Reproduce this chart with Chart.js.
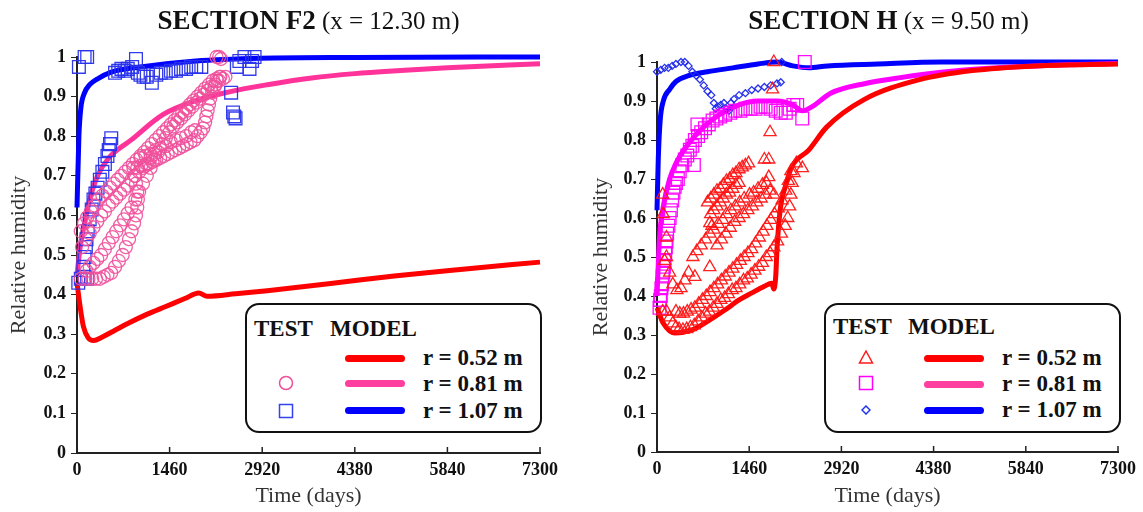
<!DOCTYPE html>
<html>
<head>
<meta charset="utf-8">
<script src="https://cdn.jsdelivr.net/npm/chart.js@4.4.1/dist/chart.umd.min.js"></script>
<style>
  body { margin: 0; background: #fff; width: 1143px; height: 512px; position: relative; overflow: hidden; font-family: "Liberation Serif", "Times New Roman", serif; }
  .panel { position: absolute; top: 0; height: 512px; }
  .title { position: absolute; top: 5px; text-align: center; font-size: 25px; line-height: 30px; color: #111; white-space: nowrap; }
  .title b { font-size: 27px; }
  .legend { position: absolute; top: 303px; height: 126px; border: 2px solid #111; border-radius: 14px; background: #fff; font-weight: bold; font-size: 23px; color: #111; }
  .legend span, .legend svg, .legend i { position: absolute; }
  .legend span { line-height: 24px; white-space: nowrap; }
  .legend i { height: 7px; width: 60px; border-radius: 4px; }
</style>
</head>
<body>

<div class="panel" style="left:0;width:571px"><canvas id="chartF2"></canvas></div>
<div class="panel" style="left:582px;width:561px"><canvas id="chartH"></canvas></div>

<div class="title" style="left:77px;width:463px"><b>SECTION F2</b> (x = 12.30 m)</div>
<div class="title" style="left:657px;width:463px"><b>SECTION H</b> (x = 9.50 m)</div>

<div class="legend" style="left:245px;width:293px">
  <span style="left:7px;top:12px">TEST</span>
  <span style="left:83px;top:12px">MODEL</span>
  <i style="left:98px;top:50px;background:#ff0000"></i>
  <span style="left:176px;top:41px">r = 0.52 m</span>
  <svg style="left:31px;top:70px" width="16" height="16"><circle cx="8" cy="8" r="6.5" fill="none" stroke="#f0509a" stroke-width="1.5"/></svg>
  <i style="left:98px;top:75px;background:#ff3f9f"></i>
  <span style="left:176px;top:67px">r = 0.81 m</span>
  <svg style="left:31px;top:98px" width="16" height="16"><rect x="1.5" y="1.5" width="13" height="13" fill="none" stroke="#3344ee" stroke-width="1.5"/></svg>
  <i style="left:98px;top:102px;background:#0000ff"></i>
  <span style="left:176px;top:94px">r = 1.07 m</span>
</div>

<div class="legend" style="left:824px;width:293px">
  <span style="left:7px;top:10px">TEST</span>
  <span style="left:82px;top:10px">MODEL</span>
  <svg style="left:32px;top:44px" width="16" height="16"><polygon points="8,2 14.5,14 1.5,14" fill="none" stroke="#ff1a1a" stroke-width="1.5"/></svg>
  <i style="left:98px;top:50px;background:#ff0000"></i>
  <span style="left:176px;top:41px">r = 0.52 m</span>
  <svg style="left:32px;top:70px" width="16" height="16"><rect x="1.5" y="1.5" width="13" height="13" fill="none" stroke="#ff00ff" stroke-width="1.5"/></svg>
  <i style="left:98px;top:76px;background:#ff3f9f"></i>
  <span style="left:176px;top:67px">r = 0.81 m</span>
  <svg style="left:35px;top:100px" width="10" height="10"><polygon points="5,1 9,5 5,9 1,5" fill="none" stroke="#2233ee" stroke-width="1.5"/></svg>
  <i style="left:98px;top:102px;background:#0000ff"></i>
  <span style="left:176px;top:93px">r = 1.07 m</span>
</div>

<script>
// axis ticks
const timeTicks = [0, 1460, 2920, 4380, 5840, 7300];
const rhTicks = [0, 0.1, 0.2, 0.3, 0.4, 0.5, 0.6, 0.7, 0.8, 0.9, 1];

// SECTION F2 - model curves [time (days), relative humidity]
const f2Model052 = [[0,0.43],[40,0.38],[100,0.32],[180,0.29],[260,0.284],[400,0.293],[600,0.31],[800,0.327],[1100,0.35],[1400,0.37],[1700,0.39],[1920,0.404],[2050,0.396],[2500,0.402],[3000,0.41],[4000,0.428],[5000,0.447],[6000,0.463],[7300,0.482]];
const f2Model081 = [[0,0.45],[50,0.52],[120,0.58],[200,0.64],[325,0.70],[500,0.745],[850,0.79],[1360,0.855],[1875,0.89],[2400,0.912],[3000,0.93],[3700,0.947],[4380,0.958],[5100,0.966],[5840,0.973],[7300,0.983]];
const f2Model107 = [[0,0.62],[30,0.8],[60,0.87],[120,0.91],[200,0.93],[325,0.945],[540,0.962],[1000,0.975],[1875,0.99],[2900,0.997],[4380,0.999],[7300,1.0]];

// SECTION F2 - test data, r = 0.81 m (three loops of readings)
const f2Test081a = [[60,0.56],[110,0.58],[160,0.595],[220,0.61],[280,0.625],[340,0.64],[400,0.65],[460,0.66],[520,0.67],[580,0.68],[640,0.69],[700,0.70],[760,0.71],[820,0.72],[880,0.73],[940,0.74],[1000,0.75],[1060,0.76],[1120,0.77],[1180,0.78],[1240,0.79],[1300,0.80],[1360,0.81],[1420,0.82],[1480,0.83],[1540,0.84],[1600,0.85],[1660,0.86],[1720,0.87],[1780,0.88],[1840,0.89],[1900,0.90],[1960,0.91],[2020,0.92],[2080,0.93],[2140,0.94],[2200,0.945],[2260,0.95],
  [80,0.52],[140,0.54],[200,0.555],[260,0.57],[320,0.585],[380,0.60],[440,0.61],[500,0.625],[560,0.635],[620,0.645],[680,0.655],[740,0.665],[800,0.675],[860,0.69],[920,0.70],[980,0.71],[1040,0.72],[1100,0.73],[1160,0.745],[1220,0.755]];
const f2Test081b = [[150,0.46],[200,0.47],[260,0.48],[320,0.49],[380,0.50],[440,0.515],[500,0.53],[560,0.545],[620,0.56],[680,0.575],[740,0.59],[800,0.605],[860,0.62],[920,0.64],[980,0.66],[1040,0.68],[1100,0.70],[1160,0.72],[1220,0.74],[1280,0.76],[1340,0.78],[1400,0.795],[1460,0.81],[1520,0.825],[1580,0.835],[1640,0.845],[1700,0.855],[1760,0.865],[1820,0.875],[1880,0.885],[1940,0.895],[2000,0.905],[2060,0.915],[2120,0.925],[2180,0.93],[2240,0.94],[2300,0.945],[2340,0.95]];
const f2Test081c = [[60,0.44],[120,0.44],[180,0.44],[240,0.44],[300,0.44],[360,0.44],[420,0.445],[480,0.45],[540,0.455],[600,0.47],[660,0.485],[720,0.50],[770,0.52],[820,0.54],[860,0.56],[900,0.58],[930,0.60],[950,0.62],[960,0.64],[950,0.66],[930,0.68],[910,0.70],[890,0.72],[950,0.72],[1010,0.725],[1070,0.725],[1130,0.73],[1190,0.735],[1250,0.74],[1310,0.745],[1370,0.75],[1430,0.755],[1490,0.76],[1550,0.765],[1610,0.77],[1670,0.775],[1730,0.78],[1790,0.785],[1850,0.79],[1900,0.80],[1950,0.81],[1990,0.82],[2020,0.835],[2040,0.85],[2060,0.865],[2080,0.88],[2100,0.895],[2130,0.91],[2170,0.925],[2210,0.94],[2250,0.95],
  [1000,0.745],[1080,0.75],[1160,0.755],[1240,0.765],[1320,0.77],[1400,0.775],[1480,0.785],[1560,0.79],[1640,0.795],[1720,0.80],[1800,0.81],[1860,0.815],
  [2200,1.0],[2240,1.0],[2270,0.995]];
// SECTION F2 - test data, r = 1.07 m
const f2Test107 = [[20,0.43],[60,0.44],[120,0.445],[160,0.44],[100,0.47],[120,0.495],[140,0.52],[150,0.54],[170,0.56],[200,0.59],[232,0.615],[260,0.64],[290,0.655],[325,0.67],[360,0.69],[400,0.71],[440,0.73],[480,0.75],[500,0.765],[520,0.78],[540,0.795],
  [30,0.975],[120,1.0],[160,1.0],
  [600,0.96],[650,0.965],[700,0.97],[750,0.965],[800,0.97],[870,0.975],[930,0.995],[960,0.96],[1000,0.955],[1050,0.95],[1100,0.95],[1180,0.935],[1250,0.955],[1320,0.96],[1400,0.96],[1480,0.965],[1560,0.965],[1640,0.97],[1720,0.97],[1800,0.975],[1880,0.975],[1960,0.975],
  [2430,0.91],[2460,0.86],[2480,0.85],[2500,0.845],[2520,0.975],[2560,0.99],[2640,1.0],[2720,0.97],[2760,0.99],[2800,1.0]];

// SECTION H - model curves
const hModel052 = [[0,0.37],[100,0.33],[284,0.305],[553,0.313],[800,0.335],[1075,0.364],[1300,0.39],[1501,0.408],[1700,0.425],[1817,0.433],[1850,0.418],[1880,0.45],[1900,0.52],[1950,0.62],[2050,0.69],[2133,0.731],[2402,0.774],[2686,0.833],[3271,0.903],[4140,0.954],[4993,0.978],[6000,0.99],[7300,0.995]];
const hModel081 = [[0,0.40],[40,0.55],[100,0.63],[200,0.70],[300,0.74],[450,0.78],[600,0.81],[900,0.855],[1300,0.89],[1600,0.90],[1900,0.90],[2150,0.89],[2300,0.875],[2450,0.885],[2750,0.92],[3300,0.945],[3850,0.96],[4700,0.977],[5600,0.987],[6500,0.993],[7300,0.996]];
const hModel107 = [[0,0.62],[20,0.75],[50,0.85],[100,0.9],[200,0.93],[300,0.95],[500,0.965],[800,0.975],[1200,0.985],[1600,0.995],[1900,1.0],[2150,0.99],[2400,0.985],[2700,0.99],[3500,0.995],[4500,1.0],[7300,1.0]];

// SECTION H - test data, r = 0.52 m (three bands of readings plus early ones)
const hTest052a = [[800,0.64],[850,0.65],[900,0.66],[950,0.67],[1000,0.675],[1050,0.685],[1100,0.695],[1150,0.70],[1200,0.71],[1250,0.715],[1300,0.725],[1350,0.73],[1400,0.735],[1450,0.74],
  [850,0.61],[900,0.62],[950,0.63],[1000,0.64],[1050,0.65],[1100,0.66],[1150,0.665],[1200,0.675],[1250,0.685],[1300,0.69],
  [870,0.58],[1700,0.75]];
const hTest052b = [[90,0.66],[100,0.61],[150,0.55],[120,0.49],[90,0.36],
  [150,0.50],[200,0.46],[250,0.43],[315,0.415],[380,0.42],[440,0.44],[500,0.46],[568,0.50],[630,0.515],[700,0.53],[770,0.545],[836,0.56],[900,0.57],[970,0.585],[1040,0.595],[1100,0.61],[1170,0.62],[1240,0.63],[1310,0.64],[1380,0.65],[1466,0.66],[1530,0.665],[1600,0.675],[1670,0.685],[1734,0.69],[1770,0.705],[1770,0.75],[1790,0.82],[1830,0.93],[1850,1.0],
  [950,0.53],[1020,0.545],[1090,0.56],[1160,0.575],[1230,0.59],[1300,0.60],[1370,0.61],[1440,0.62],[1510,0.63],[1580,0.64],[1650,0.65],[1720,0.66],[1790,0.67],[1850,0.66],[600,0.449],[836,0.474],[836,0.587]];
const hTest052c = [[150,0.36],[200,0.345],[250,0.33],[300,0.32],[350,0.315],[410,0.313],[470,0.315],[530,0.32],[590,0.325],[650,0.335],[710,0.345],[770,0.355],[830,0.36],[890,0.37],[950,0.38],[1010,0.39],[1070,0.395],[1130,0.405],[1190,0.415],[1250,0.42],[1310,0.43],[1370,0.44],[1430,0.445],[1490,0.455],[1550,0.465],[1610,0.475],[1670,0.485],[1730,0.50],[1790,0.51],[1850,0.525],[1910,0.54],[1970,0.56],[2030,0.58],[2070,0.60],[2100,0.63],[2120,0.66],[2140,0.69],[2170,0.715],[2207,0.74],
  [300,0.36],[360,0.355],[420,0.355],[480,0.36],[540,0.365],[600,0.37],[660,0.38],[720,0.39],[780,0.40],[840,0.41],[900,0.42],[960,0.43],[1020,0.44],[1080,0.45],[1140,0.46],[1200,0.47],[1260,0.48],[1320,0.49],[1380,0.50],[1440,0.51],[1500,0.52],[1560,0.535],[1620,0.55],[1680,0.565],[1740,0.58],[1800,0.595],[1860,0.61],[1920,0.625],[1980,0.645],[2040,0.67],[2080,0.695],[2120,0.72],[2302,0.728]];
// SECTION H - test data, r = 0.81 m and r = 1.07 m
const hTest081 = [[40,0.37],[50,0.39],[60,0.40],[70,0.42],[80,0.43],[90,0.45],[100,0.46],[110,0.475],[120,0.49],[130,0.51],[140,0.525],[150,0.54],[160,0.56],[180,0.58],[200,0.60],[220,0.62],[240,0.645],[260,0.665],[280,0.68],[300,0.69],[330,0.70],[360,0.72],[400,0.735],[440,0.75],[480,0.76],[520,0.775],[560,0.785],[600,0.80],[650,0.81],[700,0.82],[760,0.83],[820,0.84],[880,0.85],[940,0.855],[1000,0.86],[1080,0.865],[1160,0.87],[1240,0.875],[1320,0.875],[1400,0.88],[1480,0.88],[1560,0.88],[1640,0.885],[1720,0.885],[1800,0.88],[1880,0.875],[1960,0.87],[2040,0.87],[2100,0.88],[2160,0.89],[2220,0.89],[2300,0.855],[2340,1.0],[584,0.736],[640,0.84]];
const hTest107 = [[0,0.975],[60,0.98],[120,0.985],[180,0.985],[240,0.99],[300,0.995],[380,1.0],[440,1.0],[500,0.99],[560,0.975],[620,0.965],[680,0.955],[740,0.94],[800,0.925],[860,0.915],[900,0.895],[930,0.88],[970,0.885],[1010,0.89],[1060,0.895],[1100,0.88],[1140,0.875],[1170,0.895],[1220,0.905],[1300,0.915],[1400,0.92],[1500,0.928],[1600,0.932],[1700,0.936],[1800,0.94],[1900,0.945],[1960,0.948],[1975,1.0]];

const toXY = (arr) => arr.map(([x, y]) => ({ x, y }));

function model(data, color) {
  return {
    data: toXY(data),
    showLine: true,
    borderColor: color,
    borderWidth: 5,
    pointRadius: 0,
    cubicInterpolationMode: "monotone",
    order: 2,
    clip: false,
  };
}

function test(data, style, color, radius) {
  return {
    data: toXY(data),
    showLine: false,
    pointStyle: style,
    pointRadius: radius,
    pointBorderColor: color,
    pointBackgroundColor: "rgba(255,255,255,0)",
    pointBorderWidth: 1.3,
    order: 1,
    clip: false,
  };
}

// x-axis tick marks point up into the plot, as in the original figure
const innerXTicks = {
  id: "innerXTicks",
  afterDraw(chart) {
    const { ctx, chartArea } = chart;
    const x = chart.scales.x;
    ctx.save();
    ctx.strokeStyle = "#222";
    ctx.lineWidth = 1.5;
    timeTicks.forEach((v) => {
      const px = x.getPixelForValue(v);
      ctx.beginPath();
      ctx.moveTo(px, chartArea.bottom);
      ctx.lineTo(px, chartArea.bottom - 6);
      ctx.stroke();
    });
    ctx.restore();
  },
};

const tickFont = { family: "Liberation Serif", size: 18, weight: "bold" };
const titleFont = { family: "Liberation Serif", size: 22 };

function options(yWidth, topPad, bottom, rightPad, titlePad) {
  return {
    responsive: true,
    maintainAspectRatio: false,
    animation: false,
    layout: { padding: { top: topPad, right: rightPad, left: 0, bottom: 0 } },
    plugins: { legend: { display: false }, tooltip: { enabled: false } },
    scales: {
      x: {
        type: "linear",
        min: 0,
        max: 7300,
        afterBuildTicks: (s) => { s.ticks = timeTicks.map((v) => ({ value: v })); },
        afterFit: (s) => { s.height = 512 - bottom; },
        ticks: { color: "#111", font: tickFont, padding: 7, maxRotation: 0, callback: (v) => String(v) },
        grid: { display: false, drawTicks: false },
        border: { color: "#222", width: 2 },
        title: { display: true, text: "Time (days)", color: "#333", font: titleFont, padding: { top: 0, bottom: 3 } },
      },
      y: {
        min: 0,
        max: 1,
        afterBuildTicks: (s) => { s.ticks = rhTicks.map((v) => ({ value: v })); },
        afterFit: (s) => { s.width = yWidth; },
        ticks: { color: "#111", font: tickFont, padding: 5, callback: (v) => (v === 0 || v === 1 ? String(v) : v.toFixed(1)) },
        grid: { drawOnChartArea: false, tickLength: 6, color: "#222" },
        border: { color: "#222", width: 2 },
        title: { display: true, text: "Relative humidity", color: "#333", font: titleFont, padding: { top: titlePad, bottom: 0 } },
      },
    },
  };
}

new Chart(document.getElementById("chartF2"), {
  type: "scatter",
  data: {
    datasets: [
      model(f2Model052, "#ff0000"),
      model(f2Model081, "#ff3399"),
      model(f2Model107, "#0000ff"),
      test(f2Test081a, "circle", "rgba(240,80,155,0.9)", 6.5),
      test(f2Test081b, "circle", "rgba(240,80,155,0.9)", 6.5),
      test(f2Test081c, "circle", "rgba(240,80,155,0.9)", 6.5),
      test(f2Test107, "rect", "rgba(40,50,235,0.95)", 9),
    ],
  },
  options: options(77, 57, 453, 31, 6),
  plugins: [innerXTicks],
});

new Chart(document.getElementById("chartH"), {
  type: "scatter",
  data: {
    datasets: [
      model(hModel052, "#ff0000"),
      model(hModel081, "#ff00ff"),
      model(hModel107, "#0000ff"),
      test(hTest052a, "triangle", "rgba(255,20,20,0.95)", 7),
      test(hTest052b, "triangle", "rgba(255,20,20,0.95)", 7),
      test(hTest052c, "triangle", "rgba(255,20,20,0.95)", 7),
      test(hTest081, "rect", "rgba(255,0,255,0.95)", 9),
      test(hTest107, "rectRot", "rgba(30,40,235,0.95)", 3.5),
    ],
  },
  options: options(75, 62, 452, 23, 6),
  plugins: [innerXTicks],
});
</script>
</body>
</html>
